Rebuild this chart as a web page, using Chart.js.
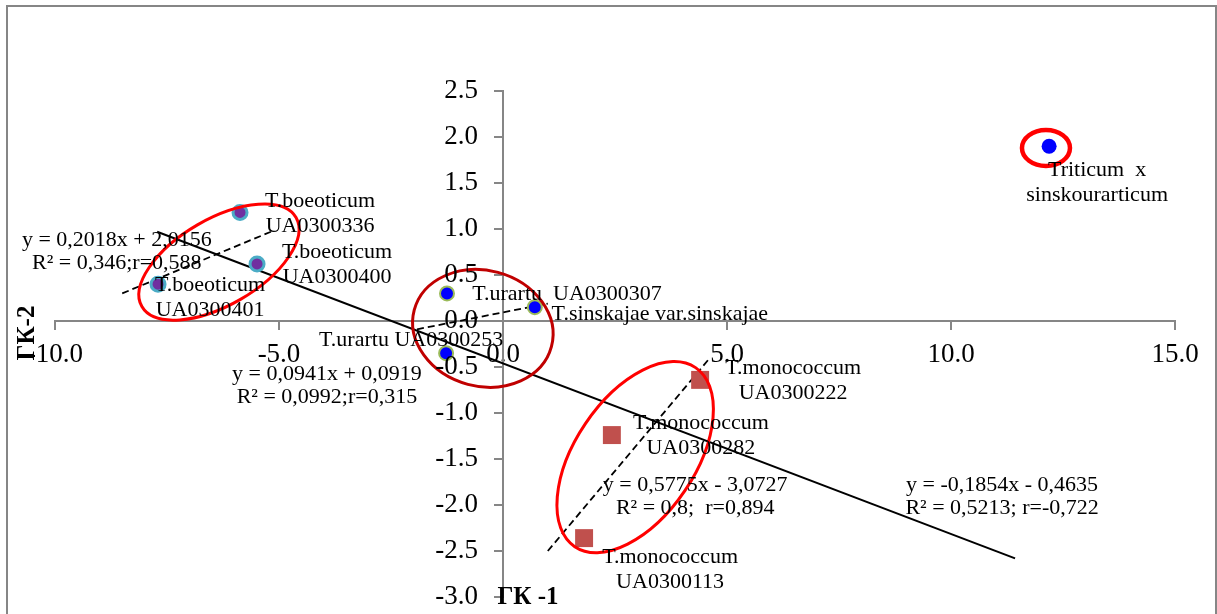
<!DOCTYPE html>
<html>
<head>
<meta charset="utf-8">
<script src="https://cdn.jsdelivr.net/npm/chart.js@4.4.1/dist/chart.umd.min.js"></script>
<style>
  html, body { margin: 0; padding: 0; background: #fff; }
</style>
</head>
<body>
<canvas id="chart" width="1217" height="614"></canvas>
<script>
// PCA scores (ГК-1, ГК-2)
const boeoticumNames = [['T.boeoticum', 'UA0300336'], ['T.boeoticum', 'UA0300400'], ['T.boeoticum', 'UA0300401']];
const boeoticumX = [-5.87, -5.49, -7.70];
const boeoticumY = [1.18, 0.62, 0.40];

const urartuNames = [['T.urartu  UA0300307'], ['T.sinskajae var.sinskajae'], ['T.urartu UA0300253']];
const urartuX = [-1.25, 0.71, -1.27];
const urartuY = [0.30, 0.15, -0.35];

const monococcumNames = [['T.monococcum', 'UA0300222'], ['T.monococcum', 'UA0300282'], ['T.monococcum', 'UA0300113']];
const monococcumX = [4.40, 2.43, 1.81];
const monococcumY = [-0.64, -1.24, -2.36];

const hybridNames = [['Triticum  x', 'sinskourarticum']];
const hybridX = [12.19];
const hybridY = [1.90];

// trend lines, ends as drawn
const trendAllX = [-7.72, 11.43];
const trendAllY = [0.97, -2.58];
const trendBoeoticumX = [-8.50, -5.13];
const trendBoeoticumY = [0.30, 0.98];
const trendUrartuX = [-1.92, 1.00];
const trendUrartuY = [-0.09, 0.19];
const trendMonococcumX = [1.00, 4.62];
const trendMonococcumY = [-2.50, -0.40];

const equationText = [
  ['y = 0,2018x + 2,0156', 'R² = 0,346;r=0,588'],
  ['y = 0,0941x + 0,0919', 'R² = 0,0992;r=0,315'],
  ['y = 0,5775x - 3,0727', 'R² = 0,8;  r=0,894'],
  ['y = -0,1854x - 0,4635', 'R² = 0,5213; r=-0,722'],
];
const equationX = [-8.62, -3.93, 4.29, 11.14];
const equationY = [0.755, -0.70, -1.91, -1.91];

const xRange = [-10, 15], xStep = 5;
const yRange = [-3, 2.5], yStep = 0.5;
const xTitle = 'ГК -1';
const yTitle = 'ГК-2';

const SERIF = '"Liberation Serif", "DejaVu Serif", serif';
const AXIS_GRAY = '#868686';
const TICK_FONT = '27px ' + SERIF;

const pts = (xs, ys) => xs.map((v, i) => ({x: v, y: ys[i]}));

// red rings round the groups: centre in data units, radii in px
const rings = [
  {x: -6.34, y: 0.64, rx: 89, ry: 43, rot: -30, color: '#ff0000', width: 3},
  {x: -0.45, y: -0.08, rx: 71, ry: 58, rot: 15, color: '#c00000', width: 3},
  {x: 2.95, y: -1.48, rx: 108, ry: 60, rot: -56, color: '#ff0000', width: 3},
  {x: 12.12, y: 1.88, rx: 24, ry: 18, rot: 0, color: '#ff0000', width: 4.5},
];

const decor = {
  id: 'decor',
  beforeDraw(chart) {
    const ctx = chart.ctx;
    ctx.save();
    ctx.strokeStyle = AXIS_GRAY;
    ctx.lineWidth = 2;
    ctx.strokeRect(7, 6, 1209, 640);
    ctx.restore();
  },
  afterDatasetsDraw(chart) {
    const {ctx, scales: {x, y}} = chart;
    ctx.save();
    rings.forEach(r => {
      ctx.beginPath();
      ctx.ellipse(x.getPixelForValue(r.x), y.getPixelForValue(r.y), r.rx, r.ry, r.rot * Math.PI / 180, 0, 2 * Math.PI);
      ctx.strokeStyle = r.color;
      ctx.lineWidth = r.width;
      ctx.stroke();
    });

    // y tick labels: Chart.js puts them on the axis line when the axis is placed at x=0
    ctx.fillStyle = '#000';
    ctx.font = TICK_FONT;
    ctx.textAlign = 'right';
    ctx.textBaseline = 'middle';
    const x0 = x.getPixelForValue(0);
    y.ticks.forEach(t => ctx.fillText(t.value.toFixed(1), x0 - 25, y.getPixelForValue(t.value)));

    ctx.font = '22px ' + SERIF;
    ctx.textAlign = 'center';
    const lh = 25;
    chart.data.datasets.forEach((ds, di) => {
      if (!ds.names) return;
      const meta = chart.getDatasetMeta(di);
      meta.data.forEach((el, i) => {
        const lines = ds.names[i];
        const [dx, dy] = ds.labelShift[i];
        const cy = el.y + dy - (lines.length - 1) * lh / 2;
        lines.forEach((t, k) => ctx.fillText(t, el.x + dx, cy + k * lh));
      });
    });

    equationText.forEach((lines, i) => {
      const px = x.getPixelForValue(equationX[i]);
      const py = y.getPixelForValue(equationY[i]);
      lines.forEach((t, k) => ctx.fillText(t, px, py - 11.5 + k * 23));
    });

    ctx.font = 'bold 25px ' + SERIF;
    ctx.fillText(xTitle, 528, 598);
    ctx.translate(28, 333);
    ctx.rotate(-Math.PI / 2);
    ctx.fillText(yTitle, 0, 0);
    ctx.restore();
  }
};

const trend = (xs, ys, dash, w) => ({
  data: pts(xs, ys), showLine: true, borderColor: '#000', borderWidth: w,
  borderDash: dash, pointRadius: 0, fill: false, order: 2,
});

new Chart(document.getElementById('chart'), {
  type: 'scatter',
  data: {
    datasets: [
      {data: pts(boeoticumX, boeoticumY), names: boeoticumNames,
       labelShift: [[80, 1], [80, 1], [52, 14]],
       backgroundColor: '#7030a0', borderColor: '#4bacc6', borderWidth: 3, pointRadius: 7, order: 1},
      {data: pts(urartuX, urartuY), names: urartuNames,
       labelShift: [[120, 1], [125, 7], [-35, -13]],
       backgroundColor: '#0000ff', borderColor: '#9bbb59', borderWidth: 2, pointRadius: 7, order: 1},
      {data: pts(monococcumX, monococcumY), names: monococcumNames,
       labelShift: [[93, 1], [89, 1], [86, 32]],
       backgroundColor: '#c0504d', borderColor: '#c0504d', borderWidth: 0, pointStyle: 'rect', pointRadius: 12.7, order: 1},
      {data: pts(hybridX, hybridY), names: hybridNames,
       labelShift: [[48, 37]],
       backgroundColor: '#0000ff', borderColor: '#0000ff', borderWidth: 0, pointRadius: 7.5, order: 1},
      trend(trendAllX, trendAllY, [], 2),
      trend(trendBoeoticumX, trendBoeoticumY, [7, 4], 1.8),
      trend(trendUrartuX, trendUrartuY, [7, 4], 1.8),
      trend(trendMonococcumX, trendMonococcumY, [7, 4], 1.8),
    ]
  },
  options: {
    responsive: false,
    animation: false,
    events: [],
    layout: {padding: {left: 55, right: 42, top: 91, bottom: 17}},
    plugins: {legend: {display: false}, tooltip: {enabled: false}},
    scales: {
      x: {
        type: 'linear', position: {y: 0}, min: xRange[0], max: xRange[1],
        ticks: {stepSize: xStep, callback: v => v.toFixed(1), color: '#000', font: {family: SERIF, size: 27}, padding: 10, maxRotation: 0},
        grid: {drawOnChartArea: false, color: AXIS_GRAY, tickLength: 8, lineWidth: 2},
        border: {color: AXIS_GRAY, width: 2},
      },
      y: {
        type: 'linear', position: {x: 0}, min: yRange[0], max: yRange[1],
        ticks: {stepSize: yStep, display: false},
        grid: {drawOnChartArea: false, color: AXIS_GRAY, tickLength: 8, lineWidth: 2},
        border: {color: AXIS_GRAY, width: 2},
      }
    }
  },
  plugins: [decor]
});
</script>
</body>
</html>
